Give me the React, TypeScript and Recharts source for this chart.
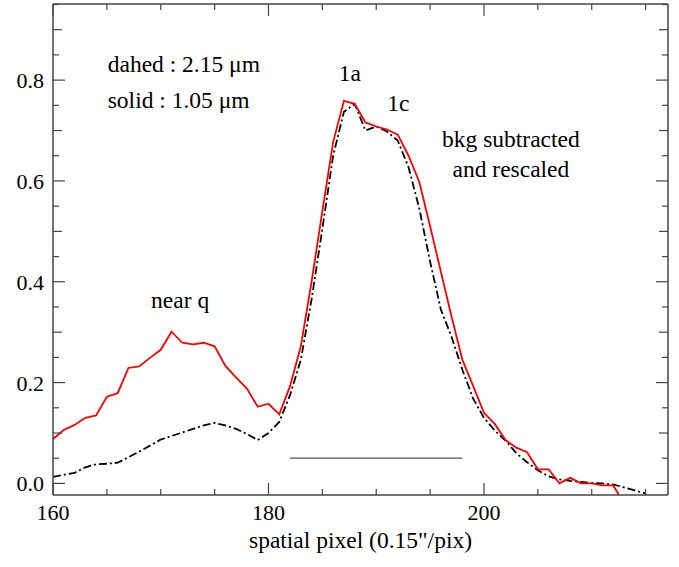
import React from 'react';
import { LineChart, Line, XAxis, YAxis, ReferenceDot, ReferenceLine } from 'recharts';

const pixels = [160,161,162,163,164,165,166,167,168,169,170,171,172,173,174,175,176,177,178,179,180,181,182,183,184,185,186,187,188,189,190,191,192,193,194,195,196,197,198,199,200,201,202,203,204,205,206,207,208,209,210,211,212,213,214,215];

// solid red : 1.05 um
const solid105 = [0.088,0.106,0.116,0.130,0.135,0.172,0.179,0.229,0.232,0.249,0.265,0.301,0.279,0.276,0.279,0.272,0.233,0.210,0.188,0.152,0.158,0.137,0.193,0.272,0.400,0.540,0.677,0.759,0.753,0.716,0.708,0.702,0.692,0.650,0.598,0.510,0.420,0.330,0.245,0.193,0.140,0.118,0.086,0.071,0.062,0.028,0.028,0.000,0.011,0.000,0.000,-0.004,-0.004,-0.040,null,null];

// dash-dot black : 2.15 um
const dashed215 = [0.013,0.017,0.021,0.032,0.038,0.039,0.041,0.052,0.063,0.075,0.087,0.094,0.101,0.108,0.115,0.120,0.115,0.108,0.098,0.086,0.100,0.122,0.175,0.245,0.365,0.505,0.650,0.737,0.753,0.700,0.708,0.698,0.680,0.627,0.545,0.440,0.345,0.290,0.225,0.168,0.130,0.105,0.085,0.060,0.042,0.026,0.014,0.008,0.005,0.003,0.001,0.000,-0.002,-0.008,-0.014,-0.020];

const xTicks = [160,165,170,175,180,185,190,195,200,205,210,215];
const xLabels = [160,180,200];
const yTicks = [0,0.05,0.1,0.15,0.2,0.25,0.3,0.35,0.4,0.45,0.5,0.55,0.6,0.65,0.7,0.75,0.8,0.85,0.9,0.95];
const yLabels = ['0.0','0.2','0.4','0.6','0.8'];

const barRange = [182, 198];
const barLevel = 0.05;

const annotations = [
  { x: 165.08, y: 0.832, text: 'dahed : 2.15 \u03bcm', pos: 'right' },
  { x: 165.08, y: 0.761, text: 'solid : 1.05 \u03bcm', pos: 'right' },
  { x: 187.55, y: 0.814, text: '1a', pos: 'center' },
  { x: 192.05, y: 0.755, text: '1c', pos: 'center' },
  { x: 202.5, y: 0.683, text: 'bkg subtracted', pos: 'center' },
  { x: 202.5, y: 0.624, text: 'and rescaled', pos: 'center' },
  { x: 171.8, y: 0.364, text: 'near q', pos: 'center' },
];

const data = pixels.map((p, i) => ({ x: p, red: solid105[i], black: dashed215[i] }));

const FONT = "'Liberation Serif', 'Times New Roman', serif";
const FS = 22;
const FS_TEXT = 23.5;
const AX = '#444';

const xLen = (v: number) => (v % 20 === 0 ? 12 : 6);
const yLen = (v: number) => {
  const k = Math.round(v * 100);
  if (k % 20 === 0) return 12;
  if (k % 10 === 0) return 9;
  return 6;
};

const BottomTick = (props: any) => {
  const { x, y, payload } = props;
  const v = payload.value;
  const show = xLabels.includes(v);
  return (
    <g>
      <line x1={x} x2={x} y1={y} y2={y - xLen(v)} stroke={AX} strokeWidth={1.2} />
      {show && (
        <text x={x} y={y + 25} textAnchor="middle" fontFamily={FONT} fontSize={FS} fill="#000">{v}</text>
      )}
    </g>
  );
};

const TopTick = (props: any) => {
  const { x, y, payload } = props;
  const v = payload.value;
  return <line x1={x} x2={x} y1={y} y2={y + xLen(v)} stroke={AX} strokeWidth={1.2} />;
};

const LeftTick = (props: any) => {
  const { x, y, payload } = props;
  const v = payload.value;
  const k = Math.round(v * 100);
  const show = k % 20 === 0 && k <= 80;
  return (
    <g>
      <line x1={x} x2={x + yLen(v)} y1={y} y2={y} stroke={AX} strokeWidth={1.2} />
      {show && (
        <text x={x - 9} y={y + 8} textAnchor="end" fontFamily={FONT} fontSize={FS} fill="#000">{yLabels[k / 20]}</text>
      )}
    </g>
  );
};

const RightTick = (props: any) => {
  const { x, y, payload } = props;
  const v = payload.value;
  return <line x1={x} x2={x - yLen(v)} y1={y} y2={y} stroke={AX} strokeWidth={1.2} />;
};

export default function App() {
  return (
    <div style={{ position: 'absolute', left: 0, top: 0, background: '#fff' }}>
      <LineChart width={679} height={567} data={data} margin={{ top: 0, right: 0, bottom: 0, left: 0 }}>
        <XAxis xAxisId="b" dataKey="x" type="number" domain={[160, 217.08]} ticks={xTicks} interval={0}
          tickSize={0} tickMargin={0} tick={<BottomTick />} height={72} stroke={AX} axisLine={{ stroke: AX, strokeWidth: 1.5 }}
          label={{ value: 'spatial pixel (0.15"/pix)', position: 'insideBottom', offset: 19, fontFamily: FONT, fontSize: FS_TEXT, fill: '#000' }} />
        <XAxis xAxisId="t" orientation="top" dataKey="x" type="number" domain={[160, 217.08]} ticks={xTicks} interval={0}
          tickSize={0} tickMargin={0} tick={<TopTick />} height={4} axisLine={{ stroke: AX, strokeWidth: 1.5 }} />
        <YAxis yAxisId="l" type="number" domain={[-0.023, 0.951]} allowDataOverflow ticks={yTicks} interval={0}
          tickSize={0} tickMargin={0} tick={<LeftTick />} width={53} axisLine={{ stroke: AX, strokeWidth: 1.5 }} />
        <YAxis yAxisId="r" orientation="right" type="number" domain={[-0.023, 0.951]} allowDataOverflow ticks={yTicks} interval={0}
          tickSize={0} tickMargin={0} tick={<RightTick />} width={11} axisLine={{ stroke: AX, strokeWidth: 1.5 }} />
        <ReferenceLine xAxisId="b" yAxisId="l" segment={[{ x: barRange[0], y: barLevel }, { x: barRange[1], y: barLevel }]}
          stroke="#555" strokeWidth={1.2} />
        <Line xAxisId="b" yAxisId="l" dataKey="black" stroke="#000" strokeWidth={1.8} strokeDasharray="8 3 2 3"
          dot={false} isAnimationActive={false} connectNulls={false} />
        <Line xAxisId="b" yAxisId="l" dataKey="red" stroke="#ff0000" strokeWidth={1.8}
          dot={false} isAnimationActive={false} connectNulls={false} />
        {annotations.map((a) => (
          <ReferenceDot key={a.text} xAxisId="b" yAxisId="l" x={a.x} y={a.y} r={0} stroke="none" fill="none"
            label={{ value: a.text, position: a.pos as any, offset: 0, fontFamily: FONT, fontSize: FS_TEXT, fill: '#000' }} />
        ))}
      </LineChart>
    </div>
  );
}
